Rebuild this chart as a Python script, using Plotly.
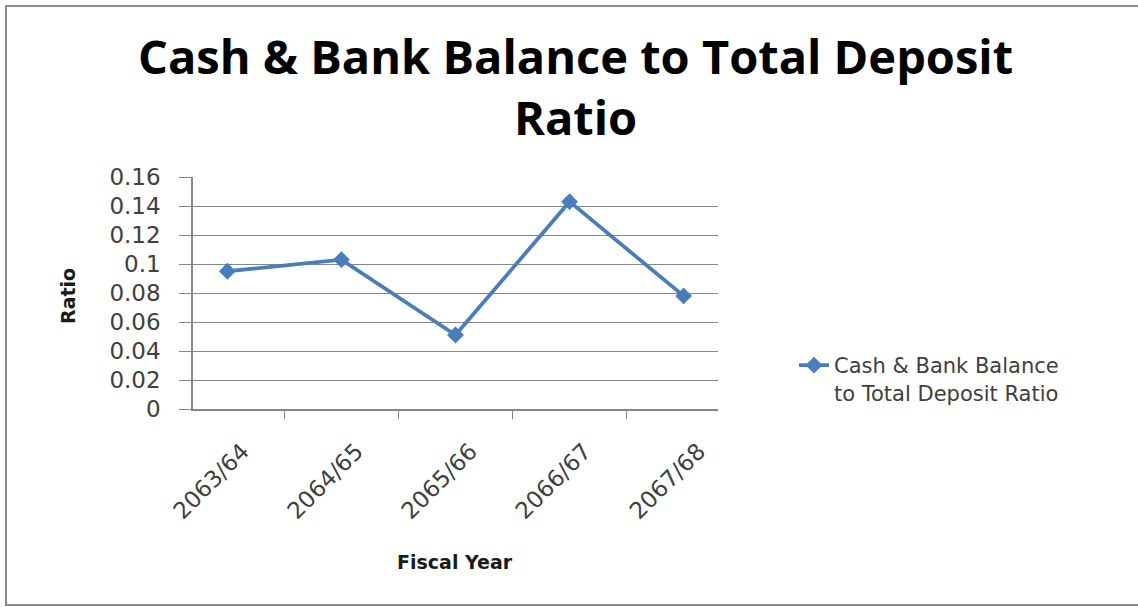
import plotly.graph_objects as go

# Fiscal years (Nepali calendar) and the ratio for each year
fiscal_years = ["2063/64", "2064/65", "2065/66", "2066/67", "2067/68"]
ratio_values = [0.095, 0.103, 0.051, 0.143, 0.078]
series_name = "Cash & Bank Balance<br>to Total Deposit Ratio"
y_ticks = [0, 0.02, 0.04, 0.06, 0.08, 0.1, 0.12, 0.14, 0.16]
y_tick_text = ["0", "0.02", "0.04", "0.06", "0.08", "0.1", "0.12", "0.14", "0.16"]

W, H = 1138, 607
PLOT_L, PLOT_R, PLOT_T, PLOT_B = 193, 718, 177, 409

TITLE_FONT = "'Open Sans', Lato, sans-serif"
BODY_FONT = "'DejaVu Sans', 'Open Sans', sans-serif"
LINE_BLUE = "#4A7EBB"
TEXT_GREY = "#404040"
AXIS_GREY = "#868686"


def px_x(x):
    """Pixel column -> paper x fraction."""
    return (x - PLOT_L) / (PLOT_R - PLOT_L)


def px_y(y):
    """Pixel row (from top) -> paper y fraction."""
    return (PLOT_B - y) / (PLOT_B - PLOT_T)


fig = go.Figure()
fig.add_trace(go.Scatter(
    x=fiscal_years,
    y=ratio_values,
    mode="lines+markers",
    name=series_name,
    line=dict(color=LINE_BLUE, width=3.8),
    marker=dict(symbol="diamond", size=13, color=LINE_BLUE),
))

fig.update_layout(
    width=W,
    height=H,
    margin=dict(l=PLOT_L, r=W - PLOT_R, t=PLOT_T, b=H - PLOT_B),
    paper_bgcolor="white",
    plot_bgcolor="white",
    font=dict(family=BODY_FONT, color=TEXT_GREY),
    showlegend=True,
    legend=dict(
        x=px_x(794), xanchor="left",
        y=px_y(345), yanchor="top",
        valign="top",
        font=dict(family=BODY_FONT, size=21, color=TEXT_GREY),
        bgcolor="rgba(0,0,0,0)",
    ),
    xaxis=dict(
        type="category",
        tickangle=-45,
        tickson="boundaries",
        ticks="outside",
        ticklen=8,
        tickcolor=AXIS_GREY,
        ticklabelstandoff=18,
        ticklabelshift=15,
        showline=True,
        linecolor=AXIS_GREY,
        linewidth=1.5,
        showgrid=False,
        tickfont=dict(family=BODY_FONT, size=23, color=TEXT_GREY),
    ),
    yaxis=dict(
        range=[0, 0.16],
        tickvals=y_ticks,
        ticktext=y_tick_text,
        ticks="outside",
        ticklen=12,
        tickcolor=AXIS_GREY,
        ticklabelstandoff=14,
        showline=True,
        linecolor=AXIS_GREY,
        linewidth=1.5,
        showgrid=True,
        gridcolor=AXIS_GREY,
        gridwidth=1,
        zeroline=False,
        tickfont=dict(family=BODY_FONT, size=23, color=TEXT_GREY),
    ),
)

# Chart title (wrapped over two lines) and axis titles
fig.add_annotation(text="<b>Cash & Bank Balance to Total Deposit<br>Ratio</b>",
                   xref="paper", yref="paper", x=px_x(575), y=px_y(87),
                   xanchor="center", yanchor="middle", showarrow=False,
                   font=dict(family=TITLE_FONT, size=47, color="black"))
fig.add_annotation(text="<b>Fiscal Year</b>",
                   xref="paper", yref="paper", x=px_x(455), y=px_y(562),
                   xanchor="center", yanchor="middle", showarrow=False,
                   font=dict(family=BODY_FONT, size=19, color="#1a1a1a"))
fig.add_annotation(text="<b>Ratio</b>",
                   xref="paper", yref="paper", x=px_x(68), y=px_y(296),
                   xanchor="center", yanchor="middle", showarrow=False,
                   textangle=-90,
                   font=dict(family=BODY_FONT, size=19, color="#1a1a1a"))

# Thin frame around the whole chart
fig.add_shape(type="rect", xref="paper", yref="paper",
              x0=px_x(6), x1=px_x(1142), y0=px_y(605), y1=px_y(6),
              line=dict(color="#8C8C8C", width=2))

fig.write_html("out.html")
